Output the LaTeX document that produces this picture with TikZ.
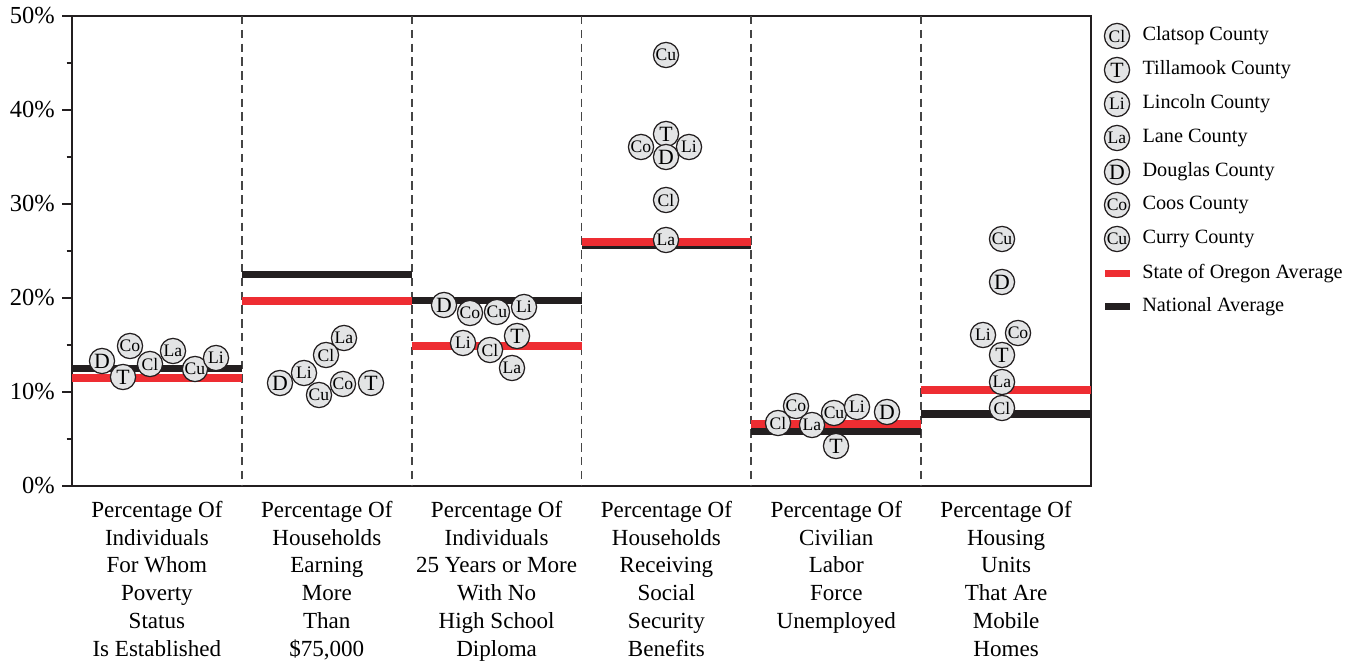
\documentclass[tikz,border=0pt]{standalone}
\usepackage{fontspec}
\setmainfont{Liberation Serif}
\usepackage{tikz}
\usetikzlibrary{positioning}

\definecolor{orred}{HTML}{EE2D32}
\definecolor{natblk}{HTML}{231F20}
\definecolor{cfill}{HTML}{E3E4E5}
\definecolor{sepgray}{HTML}{454545}

\tikzset{
	cty/.style={circle,draw=natblk,fill=cfill,line width=0.9pt,inner sep=0pt,minimum size=0.63cm,font=\fontsize{12.5}{12.5}\selectfont},
	ctyb/.style={cty,font=\fontsize{15.5}{15.5}\selectfont},
	sepline/.style={sepgray,line width=1.2pt,dash pattern=on 6pt off 3.8pt},
	natl/.style={natblk,line width=5pt},
	orl/.style={orred,line width=5pt},
	axl/.style={natblk,line width=0.9pt},
	ylab/.style={anchor=east,inner sep=0pt,font=\fontsize{17.4}{17.4}\selectfont},
	catlab/.style={anchor=north,align=center,inner sep=0pt,font=\fontsize{16.4}{19.7}\selectfont},
	leglab/.style={inner sep=0pt,font=\fontsize{14.4}{14.4}\selectfont}
}

\begin{document}
\begin{tikzpicture}[x=0.025cm,y=-0.025cm]
	\useasboundingbox (0,0) rectangle (1364,662);

	% frame, axis and ticks
	\draw[axl] (72,16) rectangle (1091,486);
	\draw[natblk,line width=1.6pt] (72,16) -- (72,486);
	\foreach \p/\yy in {0/486,10/392,20/298,30/204,40/110,50/16}{
		\draw[axl] (62,\yy) -- (72,\yy);
		\node[ylab] (y\p) at (55,\yy) {\p\%};
	}
	\foreach \yy in {439,345,251,157,63}
		\draw[axl] (66.5,\yy) -- (72,\yy);

	% column separators
	\foreach \xx in {241.8,411.7,581.5,751.3,921.2}
		\draw[sepline] (\xx,16) -- (\xx,486);

	% national and state averages
	\draw[natl] (72,368.5) -- (241.8,368.5);
	\draw[orl] (72,378) -- (241.8,378);
	\draw[natl] (241.8,274.5) -- (411.7,274.5);
	\draw[orl] (241.8,301) -- (411.7,301);
	\draw[natl] (411.7,300.5) -- (581.5,300.5);
	\draw[orl] (411.7,346) -- (581.5,346);
	\draw[natl] (581.5,245.5) -- (751.3,245.5);
	\draw[orl] (581.5,242) -- (751.3,242);
	\draw[natl] (751.3,431) -- (921.2,431);
	\draw[orl] (751.3,424) -- (921.2,424);
	\draw[natl] (921.2,414) -- (1091,414);
	\draw[orl] (921.2,390) -- (1091,390);

	% poverty
	\node[ctyb] (c1D) at (102,361) {D};
	\node[ctyb] (c1T) at (123,377) {T};
	\node[cty] (c1Co) at (130,346) {Co};
	\node[cty] (c1Cl) at (150,364) {Cl};
	\node[cty] (c1La) at (173,351) {La};
	\node[cty] (c1Cu) at (195,369) {Cu};
	\node[cty] (c1Li) at (216,358) {Li};

	% earning more than 75000
	\node[cty] (c2La) at (344,338) {La};
	\node[cty] (c2Cl) at (326,355) {Cl};
	\node[cty] (c2Li) at (304,373) {Li};
	\node[ctyb] (c2D) at (280,383) {D};
	\node[cty] (c2Cu) at (319,395) {Cu};
	\node[cty] (c2Co) at (343,384) {Co};
	\node[ctyb] (c2T) at (371,383) {T};

	% no diploma
	\node[ctyb] (c3D) at (444,305) {D};
	\node[cty] (c3Co) at (470,313) {Co};
	\node[cty] (c3Cu) at (497,312) {Cu};
	\node[cty] (c3Li) at (524,307) {Li};
	\node[cty] (c3Lib) at (463,343) {Li};
	\node[cty] (c3Cl) at (490,350) {Cl};
	\node[ctyb] (c3T) at (517,336) {T};
	\node[cty] (c3La) at (512,368) {La};

	% social security
	\node[cty] (c4Cu) at (666,55) {Cu};
	\node[cty] (c4Co) at (641,147) {Co};
	\node[cty] (c4Li) at (689,147) {Li};
	\node[ctyb] (c4T) at (666,134) {T};
	\node[ctyb] (c4D) at (666,157) {D};
	\node[cty] (c4Cl) at (666,200) {Cl};
	\node[cty] (c4La) at (666,240) {La};

	% unemployed
	\node[cty] (c5Cl) at (778,423) {Cl};
	\node[cty] (c5Co) at (796,406) {Co};
	\node[cty] (c5La) at (812,425) {La};
	\node[cty] (c5Cu) at (834,413) {Cu};
	\node[cty] (c5Li) at (857,407) {Li};
	\node[ctyb] (c5D) at (887,412) {D};
	\node[ctyb] (c5T) at (836,446) {T};

	% mobile homes
	\node[cty] (c6Cu) at (1002,239) {Cu};
	\node[ctyb] (c6D) at (1002,282) {D};
	\node[cty] (c6Li) at (983,335) {Li};
	\node[cty] (c6Co) at (1018,333) {Co};
	\node[ctyb] (c6T) at (1002,355) {T};
	\node[cty] (c6La) at (1002,382) {La};
	\node[cty] (c6Cl) at (1002,408) {Cl};

	% category labels
	\node[catlab] (cat1) at (156.9,501) {Percentage Of\\Individuals\\For Whom\\Poverty\\Status\\Is Established};
	\node[catlab] (cat2) at (326.8,501) {Percentage Of\\Households\\Earning\\More\\Than\\\$75,000};
	\node[catlab] (cat3) at (496.6,501) {Percentage Of\\Individuals\\25 Years or More\\With No\\High School\\Diploma};
	\node[catlab] (cat4) at (666.4,501) {Percentage Of\\Households\\Receiving\\Social\\Security\\Benefits};
	\node[catlab] (cat5) at (836.3,501) {Percentage Of\\Civilian\\Labor\\Force\\Unemployed};
	\node[catlab] (cat6) at (1006.1,501) {Percentage Of\\Housing\\Units\\That Are\\Mobile\\Homes};

	% legend
	\node[cty] (lgCl) at (1117,36) {Cl};
	\node[ctyb] (lgT) at (1117,70) {T};
	\node[cty] (lgLi) at (1117,104) {Li};
	\node[cty] (lgLa) at (1117,138) {La};
	\node[ctyb] (lgD) at (1117,172) {D};
	\node[cty] (lgCo) at (1117,205) {Co};
	\node[cty] (lgCu) at (1117,239) {Cu};
	\node[leglab,right=0.3cm of lgCl] (tCl) {Clatsop County};
	\node[leglab,right=0.3cm of lgT] (tT) {Tillamook County};
	\node[leglab,right=0.3cm of lgLi] (tLi) {Lincoln County};
	\node[leglab,right=0.3cm of lgLa] (tLa) {Lane County};
	\node[leglab,right=0.3cm of lgD] (tD) {Douglas County};
	\node[leglab,right=0.3cm of lgCo] (tCo) {Coos County};
	\node[leglab,right=0.3cm of lgCu] (tCu) {Curry County};
	\coordinate (lgOa) at (1105,273.5);
	\coordinate (lgOb) at (1130,273.5);
	\coordinate (lgNa) at (1105,306.5);
	\coordinate (lgNb) at (1130,306.5);
	\draw[orl,line width=4.5pt] (lgOa) -- (lgOb);
	\draw[natl,line width=4.5pt] (lgNa) -- (lgNb);
	\node[leglab,right=0.3cm of lgOb] (tOr) {State of Oregon Average};
	\node[leglab,right=0.3cm of lgNb] (tNat) {National Average};
\end{tikzpicture}
\end{document}
